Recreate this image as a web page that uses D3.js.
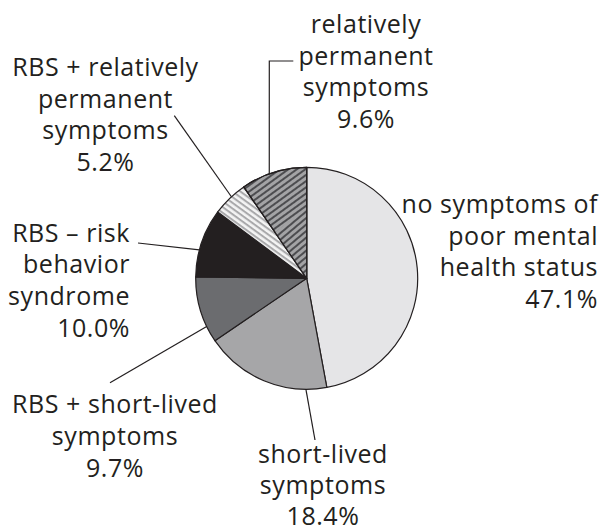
<!DOCTYPE html>
<html><head><meta charset="utf-8">
<script src="https://cdn.jsdelivr.net/npm/d3@7/dist/d3.min.js"></script>
<style>html,body{margin:0;padding:0;background:#fff}svg{display:block}</style>
</head><body>
<script>
// ---- data ----
const categories = [
  "no symptoms of poor mental health status",
  "short-lived symptoms",
  "RBS + short-lived symptoms",
  "RBS \u2013 risk behavior syndrome",
  "RBS + relatively permanent symptoms",
  "relatively permanent symptoms"
];
const values = [47.1, 18.4, 9.7, 10.0, 5.2, 9.6];
const labelLines = [
  ["no symptoms of", "poor mental", "health status", "47.1%"],
  ["short-lived", "symptoms", "18.4%"],
  ["RBS + short-lived", "symptoms", "9.7%"],
  ["RBS \u2013 risk", "behavior", "syndrome", "10.0%"],
  ["RBS + relatively", "permanent", "symptoms", "5.2%"],
  ["relatively", "permanent", "symptoms", "9.6%"]
];

// ---- layout / style ----
const W = 603, H = 532;
const cx = 306.7, cy = 278.3, R = 111;
const fills = ["#e5e5e7", "#a6a6a8", "#6b6c6f", "#231f20", "url(#hatchWhite)", "url(#hatchGray)"];
const fontSize = 25, lineH = 31.6, letterSp = 0.55;
// label anchor: x, first baseline y, text-anchor; leader: angle on circle (deg), end point
const labelLayout = [
  {x: 598, y: 213, anchor: "end", leader: null},
  {x: 323, y: 463, anchor: "middle", lineH: 31, leader: {deg: 180.4, x: 315, y: 440}},
  {x: 115, y: 413.3, anchor: "middle", leader: {deg: 244.3, x: 110, y: 382.7}},
  {x: 130, y: 241.7, anchor: "end", leader: {deg: 284.8, x: 138, y: 243}},
  {x: 105.5, y: 76, anchor: "middle", leader: {deg: 317.3, x: 174.3, y: 115.7}},
  {x: 366, y: 33, anchor: "middle", leader: {deg: 340.3, x: 269.3, y: 61, hx: 293.3}}
];

const svg = d3.select("body").append("svg").attr("width", W).attr("height", H);
const defs = svg.append("defs");

// hatch patterns
const pg = defs.append("pattern").attr("id", "hatchGray").attr("patternUnits", "userSpaceOnUse")
  .attr("width", 5).attr("height", 5).attr("patternTransform", "rotate(-36)");
pg.append("rect").attr("width", 5).attr("height", 5).attr("fill", "#a3a3a5");
pg.append("rect").attr("width", 5).attr("height", 2).attr("fill", "#4d4d50");
const pg2 = defs.append("pattern").attr("id", "hatchGray2").attr("patternUnits", "userSpaceOnUse")
  .attr("width", 5).attr("height", 5).attr("patternTransform", "rotate(-40) translate(0,2.5)");
pg2.append("rect").attr("width", 5).attr("height", 5).attr("fill", "#a3a3a5");
pg2.append("rect").attr("width", 5).attr("height", 2).attr("fill", "#4d4d50");
const pw = defs.append("pattern").attr("id", "hatchWhite").attr("patternUnits", "userSpaceOnUse")
  .attr("width", 4.6).attr("height", 4.6).attr("patternTransform", "rotate(36)");
pw.append("rect").attr("width", 4.6).attr("height", 4.6).attr("fill", "#f4f4f4");
pw.append("rect").attr("width", 4.6).attr("height", 2).attr("fill", "#a9a9ab");

const pie = d3.pie().sort(null).value(d => d)(values);
const arc = d3.arc().innerRadius(0).outerRadius(R);
const g = svg.append("g").attr("transform", `translate(${cx},${cy})`);

g.selectAll("path.slice").data(pie).join("path")
  .attr("class", "slice")
  .attr("d", arc)
  .attr("fill", (d, i) => fills[i])
  .attr("stroke", "#231f20").attr("stroke-width", 1.2).attr("stroke-linejoin", "round");

// pattern seam inside the last slice (offset hatch region)
const last = pie[pie.length - 1];
const pt = (a, r) => [Math.sin(a) * r, -Math.cos(a) * r];
const seam = [[0, 0], pt(last.startAngle, R * 0.5), pt(last.endAngle, R * 0.64)];
g.append("path").attr("d", "M" + seam.map(p => p.join(",")).join("L") + "Z")
  .attr("fill", "url(#hatchGray2)");
g.append("path").attr("d", arc(last)).attr("fill", "none")
  .attr("stroke", "#231f20").attr("stroke-width", 1.2).attr("stroke-linejoin", "round");

// leaders
const toRad = deg => deg * Math.PI / 180;
labelLayout.forEach((L, i) => {
  if (!L.leader) return;
  const [px, py] = pt(toRad(L.leader.deg), R);
  const pts = [[cx + px, cy + py], [L.leader.x, L.leader.y]];
  if (L.leader.hx !== undefined) pts.push([L.leader.hx, L.leader.y]);
  svg.append("path").attr("d", d3.line()(pts)).attr("fill", "none")
    .attr("stroke", "#231f20").attr("stroke-width", 1.2);
});

// labels
labelLayout.forEach((L, i) => {
  const lh = L.lineH || lineH;
  const t = svg.append("text").attr("x", L.x).attr("y", L.y)
    .attr("text-anchor", L.anchor)
    .attr("font-family", "'Open Sans', sans-serif").attr("font-size", fontSize)
    .attr("letter-spacing", letterSp)
    .attr("fill", "#231f20");
  labelLines[i].forEach((s, j) => {
    t.append("tspan").attr("x", L.x).attr("y", L.y + j * lh).text(s);
  });
});
</script>
</body></html>
